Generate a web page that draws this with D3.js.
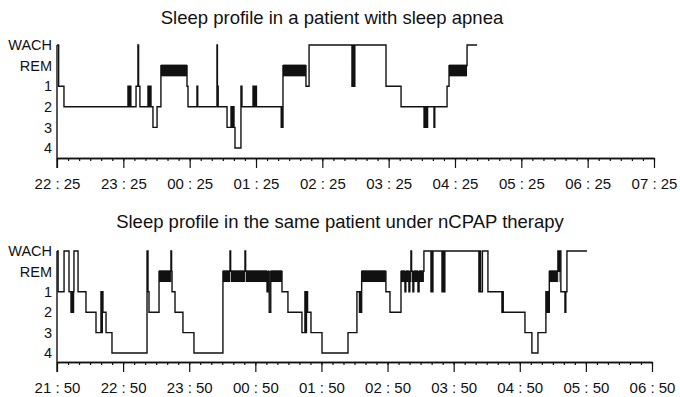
<!DOCTYPE html>
<html>
<head>
<meta charset="utf-8">
<script src="https://cdn.jsdelivr.net/npm/d3@7"></script>
<style>
  body { margin: 0; background: #fff; }
  text { font-family: "Liberation Sans", Arial, sans-serif; fill: #111; }
</style>
</head>
<body>
<div id="chart"></div>
<script>

// sleep stages, top to bottom
var stageLabels = ["WACH", "REM", "1", "2", "3", "4"];

// hour ticks (every 60 min from start of recording)
var apneaTicks = ["22 : 25", "23 : 25", "00 : 25", "01 : 25", "02 : 25", "03 : 25", "04 : 25", "05 : 25", "06 : 25", "07 : 25"];
var cpapTicks = ["21 : 50", "22 : 50", "23 : 50", "00 : 50", "01 : 50", "02 : 50", "03 : 50", "04 : 50", "05 : 50", "06 : 50"];

// [minutes after start, stage] - night with sleep apnea
var apneaProfile = [
  [0, "WACH"], [1.5, "1"], [6.3, "2"],
  [64.2, "1"], [65.1, "2"], [65.8, "1"], [66.8, "2"],
  [71.5, "1"], [73.2, "WACH"], [73.8, "1"], [75, "2"],
  [82.3, "1"], [83.2, "2"], [83.9, "1"], [85, "2"],
  [86.8, "3"], [90.5, "2"], [94, "REM"], [117.6, "1"], [118.5, "2"],
  [126.6, "1"], [127.3, "2"],
  [144.7, "WACH"], [145.1, "1"], [145.8, "2"],
  [153.8, "3"], [157.4, "2"], [158.3, "3"], [159.2, "2"], [160.1, "3"],
  [161, "4"], [166.4, "1"], [167.3, "2"],
  [177.3, "1"], [178.3, "2"], [179.2, "1"], [180.4, "2"],
  [202.8, "3"], [203.4, "2"], [203.9, "3"], [204.4, "REM"],
  [225.2, "1"], [228, "WACH"],
  [266.8, "1"], [267.6, "WACH"], [268.4, "1"], [269.4, "WACH"],
  [297.6, "1"], [311.2, "2"],
  [332, "3"], [333, "2"], [334, "3"], [335.2, "2"],
  [341, "3"], [341.7, "2"],
  [352.8, "1"], [354.6, "REM"], [370.9, "WACH"]
];
var apneaEnd = 380;

// [minutes after start, stage] - same patient under nCPAP
var cpapProfile = [
  [0, "WACH"], [1, "1"], [6.4, "WACH"], [10.9, "1"],
  [12.7, "2"], [13.5, "1"], [14.2, "2"], [15, "1"],
  [15.4, "WACH"], [19.1, "1"], [26.3, "2"], [35.4, "3"],
  [39.9, "1"], [40.6, "3"], [41.1, "1"], [41.7, "2"],
  [44.5, "3"], [49.9, "4"], [81.7, "WACH"], [82.6, "1"], [83.5, "2"],
  [92.6, "REM"], [103.4, "WACH"], [104, "REM"], [104.4, "1"], [107.1, "2"],
  [114.3, "3"], [124.3, "4"],
  [150.6, "REM"], [157, "WACH"], [157.6, "REM"], [170.6, "WACH"], [171.2, "REM"],
  [190.6, "1"], [191.6, "REM"], [192.6, "2"], [194, "REM"],
  [204.2, "1"], [209.6, "2"], [222.3, "3"],
  [225, "1"], [225.8, "3"], [226.4, "1"], [227.4, "2"],
  [230.5, "3"], [240.5, "4"], [264.1, "3"], [272.2, "1"],
  [274.5, "2"], [275.3, "1"], [275.8, "2"], [276.5, "REM"],
  [298.5, "1"], [302.2, "2"], [312.2, "REM"],
  [315.8, "1"], [316.6, "REM"], [319.4, "1"], [320.2, "REM"],
  [321.2, "WACH"], [321.8, "REM"], [323, "1"], [323.8, "REM"],
  [327.6, "1"], [328.6, "REM"], [333, "WACH"],
  [339.4, "1"], [340.2, "WACH"], [340.6, "1"], [341.2, "WACH"],
  [349.4, "1"], [350.2, "WACH"], [350.8, "1"], [352, "WACH"],
  [382.9, "1"], [383.8, "WACH"], [384.4, "1"], [386.1, "WACH"],
  [391.1, "1"], [403.8, "2"], [404.4, "1"], [405, "2"],
  [424.7, "3"], [431, "4"], [436.5, "3"],
  [443.7, "1"], [444.6, "2"], [445.3, "1"], [446.2, "2"], [446.8, "REM"],
  [454.6, "WACH"], [455.4, "REM"], [456, "WACH"], [457.3, "1"],
  [461, "2"], [461.8, "1"], [462.8, "WACH"]
];
var cpapEnd = 481;

//Width and height
var w = 680;
var h = 397;
var nightMinutes = 540;

var svg = d3.select("#chart")
  .append("svg")
  .attr("width", w)
  .attr("height", h);

function drawProfile(cfg) {

  var xScale = d3.scaleLinear()
    .domain([0, nightMinutes])
    .range([cfg.left, cfg.right]);

  var yScale = d3.scalePoint()
    .domain(stageLabels)
    .range([cfg.top, cfg.bottom]);

  var step = yScale.step();
  var g = svg.append("g");

  //Title
  g.append("text")
    .attr("x", cfg.titleX)
    .attr("y", cfg.titleY)
    .attr("text-anchor", "middle")
    .style("font-size", "18.5px")
    .text(cfg.title);

  //REM periods as thick bars
  var remBars = [];
  cfg.profile.forEach(function(d, i) {
    var next = i + 1 < cfg.profile.length ? cfg.profile[i + 1][0] : cfg.end;
    if (d[1] == "REM") remBars.push([d[0], next]);
  });

  g.selectAll("rect.rem")
    .data(remBars)
    .enter()
    .append("rect")
    .attr("class", "rem")
    .attr("x", function(d) { return xScale(d[0]); })
    .attr("y", yScale("REM") - 1)
    .attr("width", function(d) { return xScale(d[1]) - xScale(d[0]); })
    .attr("height", step * 0.57)
    .attr("fill", "#111");

  //Hypnogram line
  var line = d3.line()
    .x(function(d) { return xScale(d[0]); })
    .y(function(d) { return yScale(d[1]); })
    .curve(d3.curveStepAfter);

  var pts = cfg.profile.concat([[cfg.end, cfg.profile[cfg.profile.length - 1][1]]]);

  g.append("path")
    .datum(pts)
    .attr("d", line)
    .attr("fill", "none")
    .attr("stroke", "#111")
    .attr("stroke-width", 1.4);

  //Minor ticks every 10 minutes
  var minorAxis = d3.axisBottom(xScale)
    .tickValues(d3.range(0, nightMinutes + 1, 10))
    .tickSize(3)
    .tickSizeOuter(0)
    .tickFormat("");

  g.append("g")
    .attr("class", "x minor")
    .attr("transform", "translate(0," + cfg.axisY + ")")
    .call(minorAxis);

  //Create X axis
  var xAxis = d3.axisBottom(xScale)
    .tickValues(d3.range(0, nightMinutes + 1, 60))
    .tickSize(10)
    .tickSizeOuter(0)
    .tickPadding(10)
    .tickFormat(function(d, i) { return cfg.ticks[i]; });

  var xg = g.append("g")
    .attr("class", "x axis")
    .attr("transform", "translate(0," + cfg.axisY + ")")
    .call(xAxis);

  xg.selectAll("text")
    .style("font-size", "15px")
    .attr("fill", "#111");

  g.selectAll(".domain")
    .attr("stroke", "#111")
    .attr("stroke-width", 1.4);
  g.selectAll(".tick line")
    .attr("stroke", "#111")
    .attr("stroke-width", 1.2);

  //Y axis line
  g.append("line")
    .attr("x1", cfg.left)
    .attr("x2", cfg.left)
    .attr("y1", cfg.top)
    .attr("y2", cfg.axisY + 10)
    .attr("stroke", "#111")
    .attr("stroke-width", 1.4);

  //Stage labels
  g.selectAll("text.stage")
    .data(stageLabels)
    .enter()
    .append("text")
    .attr("class", "stage")
    .attr("x", cfg.left - 5)
    .attr("y", function(d) { return yScale(d); })
    .attr("dy", "0.36em")
    .attr("text-anchor", "end")
    .style("font-size", "14.5px")
    .text(function(d) { return d; });
}

drawProfile({
  title: "Sleep profile in a patient with sleep apnea",
  titleX: 332,
  titleY: 24,
  profile: apneaProfile,
  end: apneaEnd,
  ticks: apneaTicks,
  left: 57, right: 654,
  top: 45, bottom: 148,
  axisY: 158
});

drawProfile({
  title: "Sleep profile in the same patient under nCPAP therapy",
  titleX: 340,
  titleY: 228,
  profile: cpapProfile,
  end: cpapEnd,
  ticks: cpapTicks,
  left: 57, right: 652,
  top: 251, bottom: 353,
  axisY: 362
});

</script>
</body>
</html>
